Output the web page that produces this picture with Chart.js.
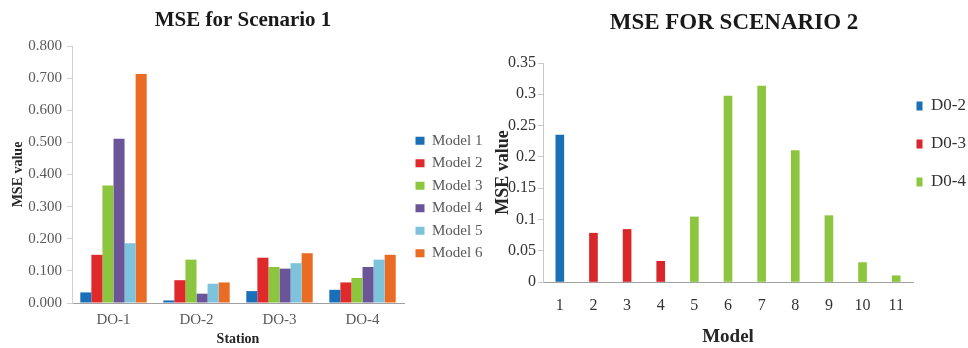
<!DOCTYPE html>
<html>
<head>
<meta charset="utf-8">
<script src="https://cdn.jsdelivr.net/npm/chart.js@4.4.1/dist/chart.umd.min.js"></script>
<style>
  html, body { margin: 0; padding: 0; background: #fff; }
  body { width: 968px; height: 348px; position: relative; overflow: hidden; }
  #scenario1 { position: absolute; left: 0; top: 0; }
  #scenario2 { position: absolute; left: 492px; top: 0; }
</style>
</head>
<body>
<canvas id="scenario1" width="492" height="348"></canvas>
<canvas id="scenario2" width="476" height="348"></canvas>
<script>
// ---- Scenario 1: MSE per station for six models ----
const stations = ['DO-1', 'DO-2', 'DO-3', 'DO-4'];
const modelNames = ['Model 1', 'Model 2', 'Model 3', 'Model 4', 'Model 5', 'Model 6'];
const model1 = [0.033, 0.008, 0.037, 0.041];
const model2 = [0.150, 0.071, 0.141, 0.064];
const model3 = [0.366, 0.135, 0.112, 0.078];
const model4 = [0.511, 0.029, 0.107, 0.112];
const model5 = [0.186, 0.060, 0.124, 0.135];
const model6 = [0.713, 0.064, 0.155, 0.150];
const yTicks1 = [0, 0.1, 0.2, 0.3, 0.4, 0.5, 0.6, 0.7, 0.8];

// ---- Scenario 2: MSE per model, coloured by station ----
const models = ['1', '2', '3', '4', '5', '6', '7', '8', '9', '10', '11'];
const stationNames2 = ['D0-2', 'D0-3', 'D0-4'];
const d02 = [0.235, null, null, null, null, null, null, null, null, null, null];
const d03 = [null, 0.078, 0.084, 0.033, null, null, null, null, null, null, null];
const d04 = [null, null, null, null, 0.104, 0.297, 0.313, 0.210, 0.106, 0.031, 0.010];
const yTicks2 = [0, 0.05, 0.1, 0.15, 0.2, 0.25, 0.3, 0.35];

const colors1 = ['#1a70b8', '#e0292b', '#8cc63e', '#6b5598', '#7cc3db', '#ea6b23'];
const colors2 = ['#1a6fb5', '#d9262a', '#8cc63e'];

Chart.defaults.font.family = '"Liberation Serif", "Times New Roman", serif';

// Places the legend column and nudges the title after the layout pass.
const boxPlacer = {
  id: 'boxPlacer',
  afterLayout(chart, args, opts) {
    const lg = chart.legend;
    if (lg && opts.legendX != null) {
      const pad = opts.pad;
      const w = lg.width, h = lg.height;
      lg.left = opts.legendX - pad; lg.right = lg.left + w;
      lg.top = opts.legendY - opts.itemH / 2 - pad; lg.bottom = lg.top + h;
    }
    const tb = chart.titleBlock;
    if (tb && opts.titleDx) { tb.left += opts.titleDx; tb.right += opts.titleDx; }
  }
};

const series1 = [model1, model2, model3, model4, model5, model6];
new Chart(document.getElementById('scenario1'), {
  type: 'bar',
  data: {
    labels: stations,
    datasets: series1.map((vals, i) => ({
      label: modelNames[i],
      data: vals,
      backgroundColor: colors1[i],
      borderWidth: 0
    }))
  },
  options: {
    responsive: false,
    animation: false,
    devicePixelRatio: 1,
    layout: { padding: { left: 0, right: 88, top: 0, bottom: 0 } },
    datasets: { bar: { categoryPercentage: 0.8, barPercentage: 1.0 } },
    plugins: {
      title: {
        display: true, text: 'MSE for Scenario 1', fullSize: false,
        color: '#1a1a1a', font: { size: 21, weight: 'bold' },
        padding: { top: 8, bottom: 12.8 }
      },
      legend: {
        position: 'chartArea', align: 'start',
        labels: { boxWidth: 9, boxHeight: 8, padding: 7.5, color: '#595959', font: { size: 15 } }
      },
      tooltip: { enabled: false },
      boxPlacer: { legendX: 415.5, legendY: 140.7, itemH: 15, pad: 7.5, titleDx: 5 }
    },
    scales: {
      x: {
        grid: { display: false, drawTicks: false },
        border: { display: true, color: '#a0a0a0', width: 1 },
        ticks: { color: '#595959', font: { size: 15 }, padding: 8, maxRotation: 0 },
        title: { display: true, text: 'Station', color: '#262626', font: { size: 14, weight: 'bold' }, padding: { top: 0, bottom: 0 } },
        afterFit: s => { s.height = 45; }
      },
      y: {
        min: yTicks1[0], max: yTicks1[yTicks1.length - 1],
        afterBuildTicks: s => { s.ticks = yTicks1.map(v => ({ value: v })); },
        ticks: { color: '#595959', font: { size: 15 }, padding: 5, callback: v => Number(v).toFixed(3) },
        grid: { drawOnChartArea: false, tickLength: 5, color: '#d0d0d0' },
        border: { color: '#d0d0d0' },
        title: { display: true, text: 'MSE value', color: '#262626', font: { size: 14, weight: 'bold' }, padding: { top: 10, bottom: 0 } },
        afterFit: s => { s.width = 72; }
      }
    }
  },
  plugins: [boxPlacer]
});

const series2 = [d02, d03, d04];
new Chart(document.getElementById('scenario2'), {
  type: 'bar',
  data: {
    labels: models,
    datasets: series2.map((vals, i) => ({
      label: stationNames2[i],
      data: vals,
      backgroundColor: colors2[i],
      borderWidth: 0
    }))
  },
  options: {
    responsive: false,
    animation: false,
    devicePixelRatio: 1,
    layout: { padding: { left: 0, right: 55, top: 0, bottom: 0 } },
    datasets: { bar: { grouped: false, barThickness: 8 } },
    plugins: {
      title: {
        display: true, text: 'MSE FOR SCENARIO 2', fullSize: false,
        color: '#1a1a1a', font: { size: 23, weight: 'bold' },
        padding: { top: 9.2, bottom: 26.2 }
      },
      legend: {
        position: 'chartArea', align: 'start',
        labels: { boxWidth: 6, boxHeight: 9, padding: 21, color: '#333333', font: { size: 17 } }
      },
      tooltip: { enabled: false },
      boxPlacer: { legendX: 424.5, legendY: 106, itemH: 17, pad: 21, titleDx: 6 }
    },
    scales: {
      x: {
        grid: { display: false, drawTicks: false },
        border: { display: true, color: '#a0a0a0', width: 1 },
        ticks: { color: '#333333', font: { size: 16 }, padding: 14, maxRotation: 0, autoSkip: false },
        title: { display: true, text: 'Model', color: '#262626', font: { size: 19, weight: 'bold' }, padding: { top: 0, bottom: 0 } },
        afterFit: s => { s.height = 66; }
      },
      y: {
        min: yTicks2[0], max: yTicks2[yTicks2.length - 1],
        afterBuildTicks: s => { s.ticks = yTicks2.map(v => ({ value: v })); },
        ticks: { color: '#333333', font: { size: 16 }, padding: 2, callback: v => String(Number(Number(v).toFixed(2))) },
        grid: { drawOnChartArea: false, tickLength: 5, color: '#c8c8c8' },
        border: { color: '#c8c8c8' },
        title: { display: true, text: 'MSE value', color: '#262626', font: { size: 18, weight: 'bold' }, padding: { top: 1, bottom: 0 } },
        afterFit: s => { s.width = 51; }
      }
    }
  },
  plugins: [boxPlacer]
});
</script>
</body>
</html>
